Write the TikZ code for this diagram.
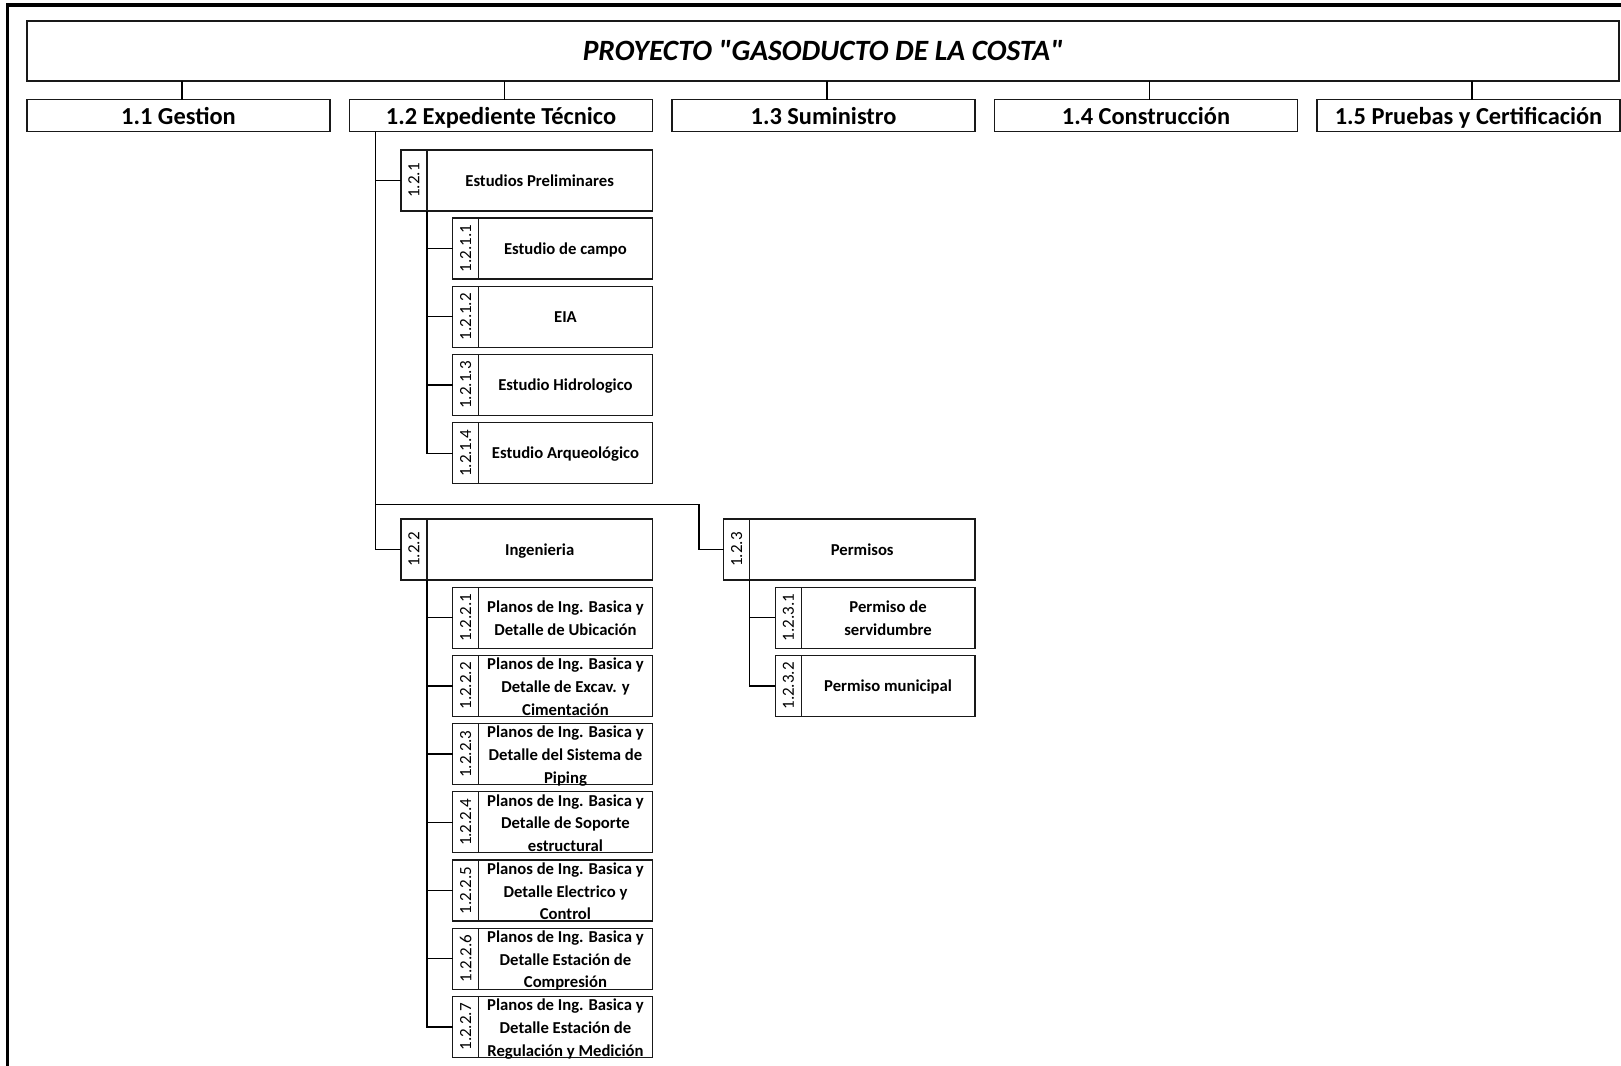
\documentclass[tikz,border=0pt]{standalone}
\usepackage{fontspec}
\setmainfont{Carlito}
\newfontfamily\titlefont{Carlito}
\usetikzlibrary{calc}
\newcommand\wbsboxg[7]{%
  \node[numcol] (#1n) at (#2,#3) {};
  \node[numtxt] (#1k) at (#1n.center) {#5};
  \node[txtbox, minimum width=#4] (#1b) at (#1n.north east) {};
  \node[lab] (#1l) at ($(#1b.center)+(0,#7)$) {#6};
}
\newcommand\wbsbox[6]{\wbsboxg{#1}{#2}{#3}{#4}{#5}{#6}{1}}
\newcommand\wbsboxm[6]{\wbsboxg{#1}{#2}{#3}{#4}{#5}{#6}{4.1}}
\begin{document}
\begin{tikzpicture}[x=0.75pt,y=-0.75pt,
  box/.style={draw=black!90, line width=1pt, fill=white, inner sep=0pt, outer sep=0pt, anchor=north west},
  titlebox/.style={box, minimum width=1194pt, minimum height=45pt},
  lvl1/.style={box, minimum width=227.25pt, minimum height=24pt, text height=16.6pt, text depth=2.4pt, font=\fontsize{18.3}{22}\selectfont\bfseries},
  numcol/.style={box, minimum width=19.4pt, minimum height=45.75pt},
  numtxt/.style={rotate=90, inner sep=0pt, font=\fontsize{12.75}{15}\selectfont},
  txtbox/.style={box, minimum height=45.75pt},
  lab/.style={inner sep=0pt, align=center, font=\fontsize{12.5}{17}\selectfont\bfseries,
    execute at begin node={\strut}, execute at end node={\strut}},
  conn/.style={draw=black, line width=1pt},
  frame/.style={draw=black, line width=2.5pt}
]
\useasboundingbox (0,0) rectangle (1621,1065);
\fill[white] (0,0) rectangle (1621,1065);
% outer frame
\coordinate (fa) at (7.7,1070);
\coordinate (fb) at (7.7,5);
\coordinate (fc) at (1625,5);
\draw[frame] (fa) -- (fb) -- (fc);

% title
\node[titlebox] (title) at (27,21) {};
\node[inner sep=0pt, text height=16pt, text depth=3pt, font=\titlefont\fontsize{22.1}{26}\selectfont\bfseries\itshape] (titletxt) at ($(title.center)+(0,1)$) {PROYECTO "GASODUCTO DE LA COSTA"};

% level 1
\node[lvl1] (l11) at (27,99.5) {1.1 Gestion};
\node[lvl1] (l12) at (349.5,99.5) {1.2 Expediente Técnico};
\node[lvl1] (l13) at (672,99.5) {1.3 Suministro};
\node[lvl1] (l14) at (994.5,99.5) {1.4 Construcción};
\node[lvl1] (l15) at (1317,99.5) {1.5 Pruebas y Certificación};
\foreach \b in {l11,l12,l13,l14,l15}{
  \draw[conn] ($(title.south -| \b.north)+(3.6,0)$) -- ($(\b.north)+(3.6,0)$);
}

% level 2 and 3
\wbsbox{a}{401.1}{150}{169pt}{1.2.1}{Estudios Preliminares}
\wbsbox{aa}{452.8}{218.1}{130.2pt}{1.2.1.1}{Estudio de campo}
\wbsbox{ab}{452.8}{286.3}{130.2pt}{1.2.1.2}{EIA}
\wbsbox{ac}{452.8}{354.5}{130.2pt}{1.2.1.3}{Estudio Hidrologico}
\wbsbox{ad}{452.8}{422.7}{130.2pt}{1.2.1.4}{Estudio Arqueológico}

\wbsbox{b}{401.1}{519}{169pt}{1.2.2}{Ingenieria}
\wbsboxm{ba}{452.8}{587.2}{130.2pt}{1.2.2.1}{Planos de Ing. Basica y\\Detalle de Ubicación}
\wbsboxm{bb}{452.8}{655.4}{130.2pt}{1.2.2.2}{Planos de Ing. Basica y\\Detalle de Excav. y\\Cimentación}
\wbsboxm{bc}{452.8}{723.6}{130.2pt}{1.2.2.3}{Planos de Ing. Basica y\\Detalle del Sistema de\\Piping}
\wbsboxm{bd}{452.8}{791.8}{130.2pt}{1.2.2.4}{Planos de Ing. Basica y\\Detalle de Soporte\\estructural}
\wbsboxm{be}{452.8}{860}{130.2pt}{1.2.2.5}{Planos de Ing. Basica y\\Detalle Electrico y\\Control}
\wbsboxm{bf}{452.8}{928.2}{130.2pt}{1.2.2.6}{Planos de Ing. Basica y\\Detalle Estación de\\Compresión}
\wbsboxm{bg}{452.8}{996.4}{130.2pt}{1.2.2.7}{Planos de Ing. Basica y\\Detalle Estación de\\Regulación y Medición}

\wbsbox{c}{723.7}{519}{169pt}{1.2.3}{Permisos}
\wbsboxm{ca}{775.4}{587.2}{130.2pt}{1.2.3.1}{Permiso de\\servidumbre}
\wbsbox{cb}{775.4}{655.4}{130.2pt}{1.2.3.2}{Permiso municipal}

% connectors
\coordinate (t12) at (375.3,131.5);
\coordinate (j123) at (698.9,504.5);
\draw[conn] (t12) |- (an.west);
\draw[conn] (t12) |- (bn.west);
\draw[conn] (t12) |- (j123) |- (cn.west);
\foreach \k in {aa,ab,ac,ad}{
  \draw[conn] (an.south east) |- (\k n.west);
}
\foreach \k in {ba,bb,bc,bd,be,bf,bg}{
  \draw[conn] (bn.south east) |- (\k n.west);
}
\foreach \k in {ca,cb}{
  \draw[conn] (cn.south east) |- (\k n.west);
}
\end{tikzpicture}
\end{document}
